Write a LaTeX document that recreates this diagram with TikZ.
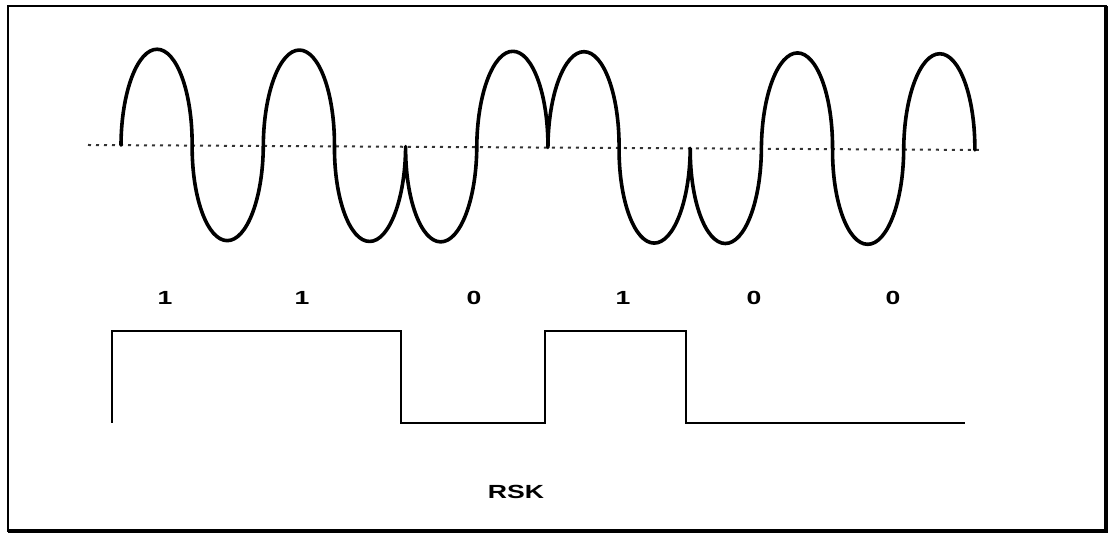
\documentclass[tikz,border=0pt]{standalone}
\usepackage{fontspec}
\setmainfont{Liberation Sans}
\begin{document}
\begin{tikzpicture}[x=1pt,y=1pt,
  wave/.style={line width=3.6pt,line join=round,line cap=round},
  sq/.style={line width=2.6pt,line join=miter},
  axisline/.style={line width=2pt,dash pattern=on 3pt off 5pt,black!80},
  bitlbl/.style={font=\bfseries\fontsize{19}{19}\selectfont,xscale=1.4,inner sep=0pt},
  title/.style={font=\bfseries\fontsize{19}{19}\selectfont,xscale=1.4,inner sep=0pt}]
\useasboundingbox (0,0) rectangle (1112,538);
% frame
\draw[line width=2.5pt] (8,7) rectangle (1106,532);
\draw[line width=4pt] (1106,532) -- (1106,7) -- (8,7);
% dotted reference line
\coordinate (la) at (88,393);
\coordinate (lb) at (982,388);
\draw[axisline] (la) -- (lb);
% carrier wave
\def\rx{35.58}
\begin{scope}[rotate around={-0.33:(121,393)}]
\coordinate (w0) at (121,393);
\draw[wave] (w0)
  arc[start angle=180,end angle=0,x radius=\rx,y radius=96]
  arc[start angle=180,end angle=360,x radius=\rx,y radius=95]
  arc[start angle=180,end angle=0,x radius=\rx,y radius=96]
  arc[start angle=180,end angle=360,x radius=\rx,y radius=95]
  arc[start angle=180,end angle=360,x radius=\rx,y radius=95]
  arc[start angle=180,end angle=0,x radius=\rx,y radius=96]
  arc[start angle=180,end angle=0,x radius=\rx,y radius=96]
  arc[start angle=180,end angle=360,x radius=\rx,y radius=95]
  arc[start angle=180,end angle=360,x radius=\rx,y radius=95]
  arc[start angle=180,end angle=0,x radius=\rx,y radius=96]
  arc[start angle=180,end angle=360,x radius=\rx,y radius=95]
  arc[start angle=180,end angle=0,x radius=\rx,y radius=96];
\end{scope}
% bit labels
\node[bitlbl] (b1) at (165,240) {1};
\node[bitlbl] (b2) at (302,240) {1};
\node[bitlbl] (b3) at (474,240) {0};
\node[bitlbl] (b4) at (623,240) {1};
\node[bitlbl] (b5) at (754,240) {0};
\node[bitlbl] (b6) at (893,240) {0};
% data signal
\coordinate (s0) at (112,115);
\coordinate (s1) at (112,207);
\coordinate (s2) at (401,207);
\coordinate (s3) at (401,115);
\coordinate (s4) at (545,115);
\coordinate (s5) at (545,207);
\coordinate (s6) at (686,207);
\coordinate (s7) at (686,115);
\coordinate (s8) at (965,115);
\draw[sq] (s0) -- (s1) -- (s2) -- (s3) -- (s4) -- (s5) -- (s6) -- (s7) -- (s8);
% caption
\node[title] (cap) at (516,46) {RSK};
\end{tikzpicture}
\end{document}
